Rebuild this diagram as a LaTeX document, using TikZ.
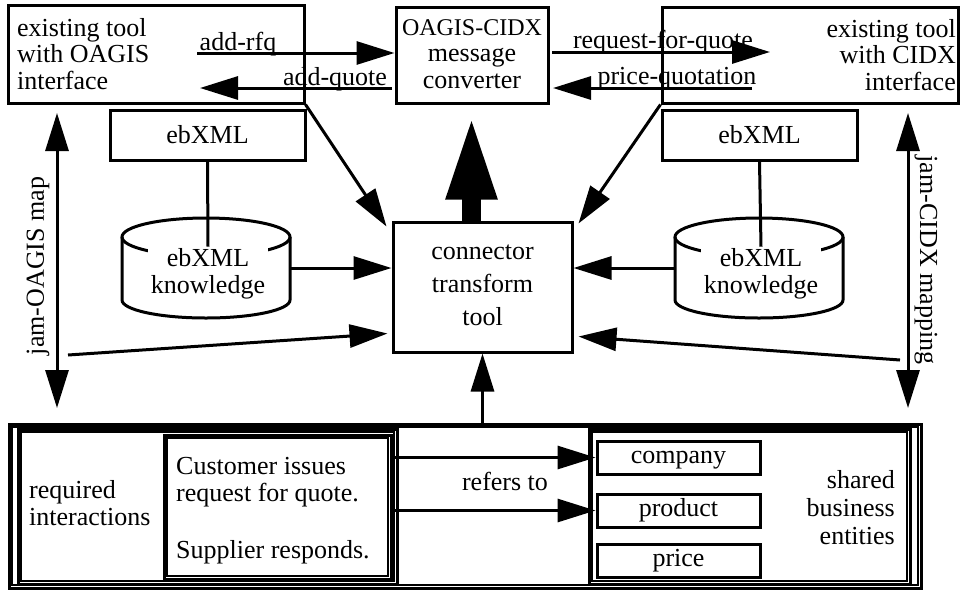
\documentclass[tikz,border=0pt]{standalone}
\usepackage{fontspec}
\setmainfont{Liberation Serif}
\usetikzlibrary{arrows.meta,calc}
\begin{document}
\begin{tikzpicture}[x=1pt,y=-1pt,
  every node/.style={font=\fontsize{26}{26.5}\selectfont, inner sep=0pt},
  box/.style={draw, line width=3pt},
  onel/.style={text height=18.5pt, text depth=6pt},
  onex/.style={text height=20pt, text depth=4pt},
  ln/.style={line width=3pt},
  arr/.style={line width=3pt, -{Triangle[length=38pt,width=23pt]}},
  darr/.style={line width=3pt, {Triangle[length=38pt,width=23pt]}-{Triangle[length=38pt,width=23pt]}},
  bigarr/.style={line width=19pt, -{Triangle[length=85pt,width=46pt]}},
  lbl/.style={anchor=base},
  holder/.style={minimum width=168pt, minimum height=100pt},
  inner/.style={line width=1.2pt},
]
\useasboundingbox (0,0) rectangle (964,590);

% top row boxes
\node[box, minimum width=296pt, minimum height=98pt] (tl) at (156,54) {};
\node[anchor=west, align=left] (tlt) at (17,54) {existing tool\\with OAGIS\\interface};
\node[box, minimum width=152pt, minimum height=96pt] (conv) at (472,55) {};
\node[align=center] (convt) at (472,54) {{\fontsize{24}{26.5}\selectfont OAGIS-CIDX}\\message\\converter};
\node[box, minimum width=296pt, minimum height=96pt] (tr) at (810,55) {};
\node[anchor=east, align=right] (trt) at (956,55) {existing tool\\with CIDX\\interface};

% message arrows
\coordinate (a1s) at (197,53);
\draw[arr] (a1s) -- (a1s -| conv.west);
\node[lbl] (l1) at (238,50) {add-rfq};
\coordinate (a2s) at (392,88);
\draw[arr] (a2s) -- (200,88);
\node[lbl] (l2) at (335,85) {add-quote};
\coordinate (a3s) at (552,52);
\draw[arr] (a3s) -- (770,52);
\node[lbl] (l3) at (663,48) {request-for-quote};
\coordinate (a4s) at (752,88);
\draw[arr] (a4s) -- (553,88);
\node[lbl] (l4) at (677,84) {price-quotation};

% ebXML boxes
\node[box, onex, minimum width=195pt, minimum height=50pt] (lx) at (207.5,135) {ebXML};
\node[box, onex, minimum width=195pt, minimum height=50pt] (rx) at (759.5,135) {ebXML};

% cylinders
\node[holder] (lcyl) at (206,268) {};
\draw[ln] (206,237) ellipse [x radius=84pt, y radius=19pt];
\draw[ln] (122,237) -- (122,300) arc[start angle=180,end angle=360,x radius=84pt,y radius=18pt] -- (290,237);
\node[fill=white, align=center, inner xsep=3pt, inner ysep=2pt] (lk) at (208,274) {ebXML\\knowledge};
\draw[ln] (lx.south) -- (lk.north);

\node[holder] (rcyl) at (759,268) {};
\draw[ln] (759,237) ellipse [x radius=84pt, y radius=19pt];
\draw[ln] (675,237) -- (675,300) arc[start angle=180,end angle=360,x radius=84pt,y radius=18pt] -- (843,237);
\node[fill=white, align=center, inner xsep=3pt, inner ysep=2pt] (rk) at (761,274) {ebXML\\knowledge};
\draw[ln] (rx.south) -- (rk.north);

% connector transform tool
\node[box, minimum width=179pt, minimum height=130pt] (conn) at (482.5,287) {};
\node[align=center, font=\fontsize{26}{33}\selectfont] (connt) at (482.5,285) {connector\\transform\\tool};

\draw[bigarr] ([xshift=-11pt]conn.north) -- ([xshift=-11pt,yshift=-10pt]conn.north |- conv.south);
\draw[arr] (tl.south east) -- ($(conn.north west)+(-5,6)$);
\draw[arr] (tr.south west) -- ($(conn.north east)+(5,3)$);
\draw[arr] (lcyl.east) -- (lcyl.east -| conn.west);
\draw[arr] (rcyl.west) -- (rcyl.west -| conn.east);

% mapping arrows
\coordinate (lmt) at (57,113);
\coordinate (lmb) at (57,408);
\draw[darr] (lmt) -- (lmb);
\node[rotate=90] (lml) at (38,266) {jam-OAGIS map};
\coordinate (lms) at (68,355);
\draw[arr] (lms) -- ($(conn.south west)+(-4,-20)$);

\coordinate (rmt) at (908,113);
\coordinate (rmb) at (908,408);
\draw[darr] (rmt) -- (rmb);
\node[rotate=-90] (rml) at (926,260) {jam-CIDX mapping};
\coordinate (rms) at (900,360);
\draw[arr] (rms) -- ($(conn.south east)+(5,-17)$);

% bottom part
\node[box, minimum width=912pt, minimum height=164pt] (outer) at (465,506) {};
\draw[inner] ([shift={(4.5,4.5)}]outer.north west) rectangle ([shift={(-4.5,-4.5)}]outer.south east);
\draw[arr] (outer.north -| conn.south) -- (conn.south);

\node[box, minimum width=379pt, minimum height=155pt] (req) at (207.5,506.5) {};
\draw[inner] ([shift={(4.5,4.5)}]req.north west) rectangle ([shift={(-4.5,-4.5)}]req.south east);
\node[anchor=west, align=left] (reqt) at (29,503) {required\\interactions};

\node[box, minimum width=227pt, minimum height=144pt] (cust) at (277.5,507) {};
\draw[inner] ([shift={(4.5,4.5)}]cust.north west) rectangle ([shift={(-4.5,-4.5)}]cust.south east);
\node[anchor=west, align=left] (custt) at (176,511) {Customer issues\\request for quote.\\[31pt]Supplier responds.};

\node[box, minimum width=321pt, minimum height=155pt] (shared) at (749.5,506.5) {};
\draw[inner] ([shift={(4.5,4.5)}]shared.north west) rectangle ([shift={(-4.5,-4.5)}]shared.south east);
\node[anchor=east, align=right, font=\fontsize{26}{28}\selectfont] (sht) at (895,508) {shared\\business\\entities};

\node[box, onel, minimum width=163pt, minimum height=33pt] (comp) at (678.5,457.5) {company};
\node[box, onel, minimum width=163pt, minimum height=33pt] (prod) at (678.5,510.5) {product};
\node[box, onel, minimum width=163pt, minimum height=33pt] (price) at (678.5,560.5) {price};

\draw[arr] (cust.east |- comp.west) -- (comp.west);
\draw[arr] (cust.east |- prod.west) -- (prod.west);
\node[lbl] (rt) at (505,490) {refers to};
\end{tikzpicture}
\end{document}
